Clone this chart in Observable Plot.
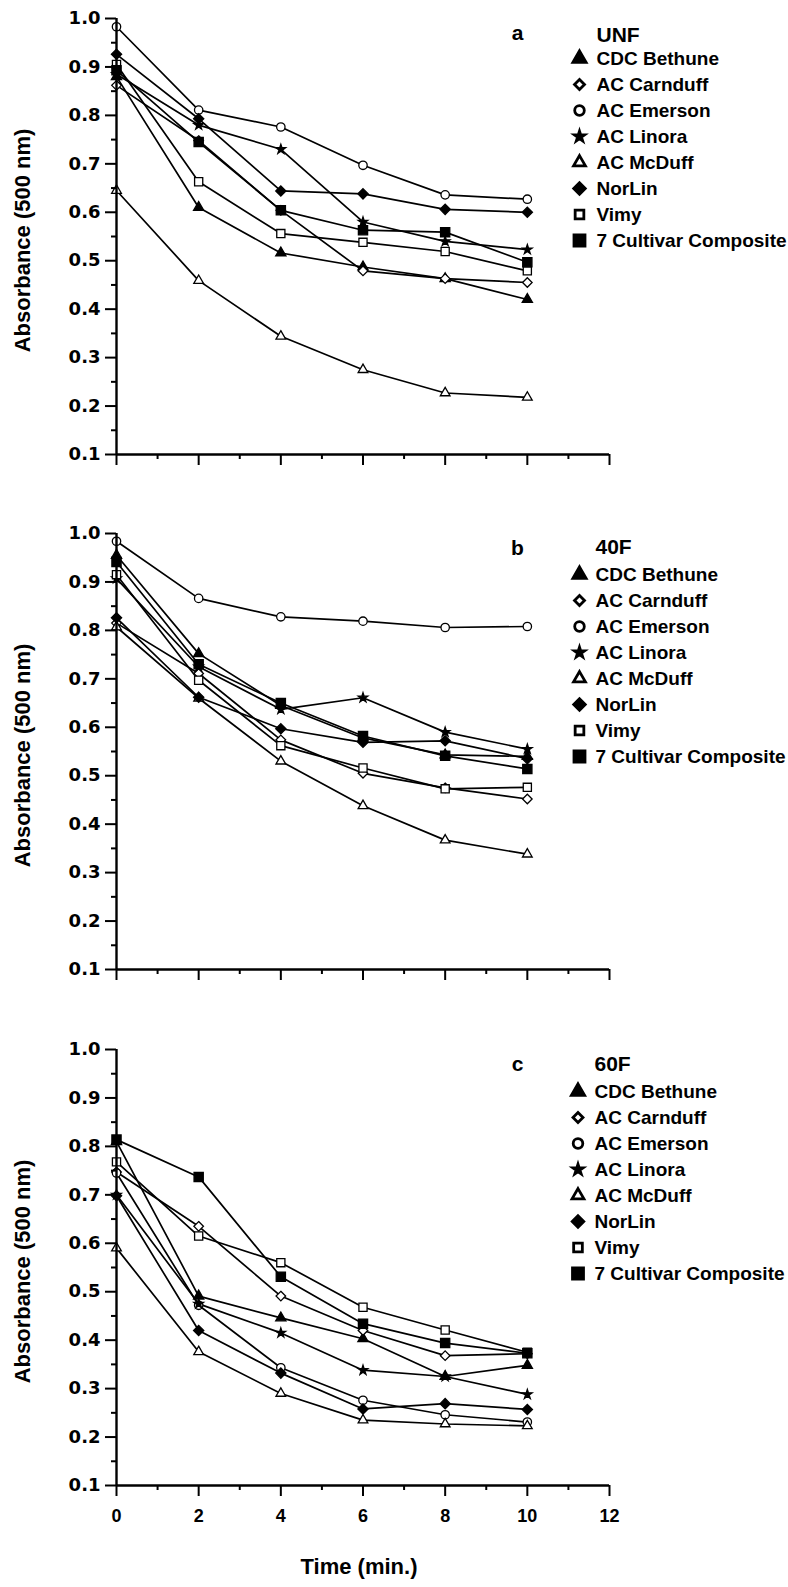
<!DOCTYPE html>
<html><head><meta charset="utf-8">
<script src="https://cdn.jsdelivr.net/npm/d3@7"></script>
<script src="https://cdn.jsdelivr.net/npm/@observablehq/plot@0.6"></script>
<style>
body{margin:0;background:#fff;}
#chart{position:relative;width:788px;height:1587px;background:#fff;}
#chart svg{position:absolute;overflow:visible;}
</style></head><body><div id="chart"></div>
<script>
// ---------- data ----------
const times = [0, 2, 4, 6, 8, 10];
const cultivars = ["CDC Bethune", "AC Carnduff", "AC Emerson", "AC Linora", "AC McDuff", "NorLin", "Vimy", "7 Cultivar Composite"];
const panelLetters = ["a", "b", "c"];
const panelTitles = ["UNF", "40F", "60F"];
const yTickValues = [0.1, 0.2, 0.3, 0.4, 0.5, 0.6, 0.7, 0.8, 0.9, 1.0];
const yMinorTickValues = [0.15, 0.25, 0.35, 0.45, 0.55, 0.65, 0.75, 0.85, 0.95];
const xTickValues = [0, 2, 4, 6, 8, 10, 12];
const xMinorTickValues = [1, 3, 5, 7, 9, 11];

// rows follow the order of `cultivars`, columns follow `times`
const unfValues = [
  [0.880, 0.610, 0.516, 0.487, 0.463, 0.420],
  [0.862, 0.748, 0.604, 0.479, 0.463, 0.455],
  [0.983, 0.811, 0.776, 0.697, 0.636, 0.627],
  [0.885, 0.780, 0.730, 0.580, 0.540, 0.523],
  [0.645, 0.459, 0.344, 0.275, 0.227, 0.218],
  [0.926, 0.793, 0.644, 0.638, 0.606, 0.600],
  [0.905, 0.663, 0.556, 0.538, 0.519, 0.479],
  [0.893, 0.745, 0.604, 0.563, 0.559, 0.497]
];
const f40Values = [
  [0.955, 0.752, 0.645, 0.578, 0.543, 0.540],
  [0.815, 0.711, 0.574, 0.505, 0.475, 0.452],
  [0.984, 0.866, 0.828, 0.819, 0.806, 0.808],
  [0.907, 0.725, 0.637, 0.661, 0.590, 0.555],
  [0.807, 0.660, 0.530, 0.438, 0.367, 0.338],
  [0.826, 0.662, 0.597, 0.569, 0.572, 0.535],
  [0.915, 0.697, 0.562, 0.516, 0.473, 0.476],
  [0.941, 0.730, 0.650, 0.582, 0.541, 0.514]
];
const f60Values = [
  [0.810, 0.491, 0.446, 0.403, 0.325, 0.348],
  [0.747, 0.635, 0.491, 0.420, 0.368, 0.372],
  [0.745, 0.472, 0.343, 0.276, 0.246, 0.231],
  [0.700, 0.475, 0.415, 0.338, 0.325, 0.288],
  [0.590, 0.376, 0.290, 0.235, 0.227, 0.223],
  [0.698, 0.420, 0.332, 0.258, 0.269, 0.257],
  [0.768, 0.615, 0.560, 0.468, 0.421, 0.375],
  [0.814, 0.737, 0.531, 0.434, 0.394, 0.373]
];

// ---------- styles ----------
const markerStyle = [
  {symbol: "triangle", filled: true,  r: 3.8, lr: 4.9},
  {symbol: "diamond2", filled: false, r: 4.3, lr: 4.5},
  {symbol: "circle",   filled: false, r: 4.2, lr: 4.8},
  {symbol: "star",     filled: true,  r: 3.0, lr: 3.2},
  {symbol: "triangle", filled: false, r: 3.6, lr: 4.4},
  {symbol: "diamond2", filled: true,  r: 4.6, lr: 5.2},
  {symbol: "square",   filled: false, r: 4.6, lr: 4.9},
  {symbol: "square",   filled: true,  r: 5.2, lr: 6.2}
];
const font = "'Liberation Sans', Arial, Helvetica, sans-serif";
const tickFont = "'DejaVu Sans', Verdana, sans-serif";
const baseStyle = {fontFamily: font, fontWeight: "bold", fontSize: "18px", color: "black", background: "transparent", overflow: "visible"};

const panels = [
  {values: unfValues, top: 0,    height: 515, marginTop: 18, marginBottom: 61,  labels: false,
   legend: {titleY: 35, first: 57.3, last: 241.7, sx: 19, tx: 36}},
  {values: f40Values, top: 515,  height: 515, marginTop: 18, marginBottom: 61,  labels: false,
   legend: {titleY: 31.7, first: 57.7, last: 241.3, sx: 19, tx: 35}},
  {values: f60Values, top: 1030, height: 557, marginTop: 19, marginBottom: 102, labels: true,
   legend: {titleY: 33.3, first: 60, last: 244, sx: 17.5, tx: 34}}
];

const chart = document.getElementById("chart");

panels.forEach((p, k) => {
  const data = cultivars.flatMap((c, i) => times.map((t, j) => ({cultivar: c, time: t, value: p.values[i][j]})));
  const marks = [
    Plot.line(data, {x: "time", y: "value", z: "cultivar", stroke: "black", strokeWidth: 1.7}),
    ...cultivars.map((c, i) => Plot.dot(data.filter(d => d.cultivar === c), {
      x: "time", y: "value", symbol: markerStyle[i].symbol, r: markerStyle[i].r,
      fill: markerStyle[i].filled ? "black" : "white", stroke: "black", strokeWidth: 1.3
    })),
    Plot.ruleX([0], {y1: 0.1, y2: 1.0, stroke: "black", strokeWidth: 2.4}),
    Plot.ruleY([0.1], {x1: 0, x2: 12, stroke: "black", strokeWidth: 2.4}),
    Plot.axisY({ticks: yTickValues, tickSize: 11, tickPadding: 5, tickFormat: d3.format(".1f"), strokeWidth: 2, fontSize: 18, fontFamily: tickFont, label: null}),
    Plot.axisY({ticks: yMinorTickValues, tickSize: 5, tickFormat: () => "", strokeWidth: 2, label: null}),
    Plot.axisX({ticks: xTickValues, tickSize: 11, tickPadding: 13, tickFormat: p.labels ? d3.format("d") : () => "", strokeWidth: 2, fontSize: 18, label: null}),
    Plot.axisX({ticks: xMinorTickValues, tickSize: 5, tickFormat: () => "", strokeWidth: 2, label: null}),
    Plot.text([panelLetters[k]], {frameAnchor: "top-right", dx: -92, dy: 15, textAnchor: "middle", lineAnchor: "middle", fontSize: 21}),
    Plot.text(["Absorbance (500 nm)"], {frameAnchor: "left", rotate: -90, dx: -93.5, dy: 4, textAnchor: "middle", lineAnchor: "middle", fontSize: 22})
  ];
  if (p.labels) marks.push(Plot.text(["Time (min.)"], {frameAnchor: "bottom", dx: -4, dy: 88, textAnchor: "middle", fontSize: 22}));
  const svg = Plot.plot({
    width: 788, height: p.height,
    marginTop: p.marginTop, marginBottom: p.marginBottom, marginLeft: 116, marginRight: 179,
    x: {domain: [0, 12]},
    y: {domain: [0.1, 1.0]},
    style: baseStyle,
    marks
  });
  svg.style.left = "0px";
  svg.style.top = p.top + "px";
  chart.appendChild(svg);

  const L = p.legend;
  const leg = Plot.plot({
    width: 228, height: 260, margin: 0,
    y: {type: "point", domain: cultivars, range: [L.first, L.last], padding: 0, axis: null},
    style: baseStyle,
    marks: [
      ...cultivars.map((c, i) => Plot.dot([c], {
        y: d => d, frameAnchor: "left", dx: L.sx, symbol: markerStyle[i].symbol, r: markerStyle[i].lr,
        fill: markerStyle[i].filled ? "black" : "white", stroke: "black", strokeWidth: 2.8
      })),
      Plot.text(cultivars, {y: d => d, text: d => d, frameAnchor: "left", dx: L.tx, textAnchor: "start", lineAnchor: "middle", fontSize: 19}),
      Plot.text([panelTitles[k]], {frameAnchor: "top-left", dx: L.tx, dy: L.titleY, textAnchor: "start", lineAnchor: "middle", fontSize: 21})
    ]
  });
  leg.style.left = "560px";
  leg.style.top = p.top + "px";
  chart.appendChild(leg);
});
</script></body></html>
